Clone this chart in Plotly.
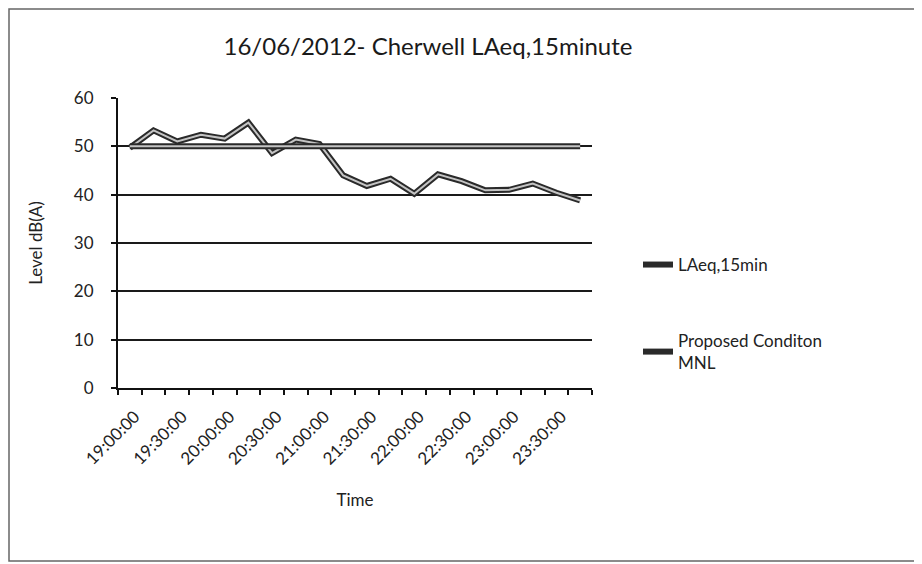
import plotly.graph_objects as go

times = ["19:00:00", "19:15:00", "19:30:00", "19:45:00", "20:00:00", "20:15:00",
         "20:30:00", "20:45:00", "21:00:00", "21:15:00", "21:30:00", "21:45:00",
         "22:00:00", "22:15:00", "22:30:00", "22:45:00", "23:00:00", "23:15:00",
         "23:30:00", "23:45:00"]
laeq = [49.7, 53.3, 51.0, 52.4, 51.6, 54.9, 48.6, 51.4, 50.5, 44.0,
        41.8, 43.3, 40.2, 44.2, 42.8, 40.9, 41.0, 42.3, 40.4, 38.8]
mnl = [50] * len(times)
tick_labels = times[::2]

title_text = "16/06/2012- Cherwell LAeq,15minute"
series_names = ["LAeq,15min", "Proposed Conditon<br>MNL"]

FONT = "Lato, 'Open Sans', sans-serif"
idx = list(range(len(times)))

OFF = 8  # page body margin offset
W, H = 922, 564
ml, mt = 118 - OFF, 98 - OFF
pr, pb = 592 - OFF, 388 - OFF
mr, mb = W - pr, H - pb
pw, ph = pr - ml, pb - mt


def px(x):
    return (x - OFF - ml) / pw


def py(y):
    return (pb - (y - OFF)) / ph


fig = go.Figure()
for name, vals, lg in [(series_names[0], laeq, "legend"), (series_names[1], mnl, "legend2")]:
    fig.add_trace(go.Scatter(x=idx, y=vals, mode="lines", name=name, legend=lg,
                             line=dict(color="#2a2a2a", width=6)))
    fig.add_trace(go.Scatter(x=idx, y=vals, mode="lines", showlegend=False,
                             hoverinfo="skip", line=dict(color="#c4c4c4", width=2)))

fig.update_layout(
    width=W, height=H,
    margin=dict(l=ml, r=mr, t=mt, b=mb),
    paper_bgcolor="white", plot_bgcolor="white",
    font=dict(family=FONT, color="#222", size=15),
    title=dict(text=title_text, x=(428 - OFF) / W, xanchor="center", y=1 - (47 - OFF) / H,
               yanchor="middle", font=dict(size=24, color="#1a1a1a")),
    xaxis=dict(
        range=[-0.5, len(times) - 0.5], automargin=False,
        tickmode="array", tickvals=idx[::2], ticktext=tick_labels,
        tickangle=-45, ticks="", showgrid=False, zeroline=False,
        showline=True, linecolor="#111", linewidth=2,
        tickfont=dict(size=17), ticklabelstandoff=10, ticklabelshift=5,
        minor=dict(tickmode="array", tickvals=[i - 0.5 for i in range(len(times) + 1)],
                   ticks="outside", ticklen=5, tickcolor="#111", tickwidth=2,
                   showgrid=False),
        title=dict(text="Time", font=dict(size=17), standoff=27),
    ),
    yaxis=dict(
        range=[0, 60], tickvals=[0, 10, 20, 30, 40, 50, 60], automargin=False,
        ticks="outside", ticklen=5, tickcolor="#111", tickwidth=2,
        showgrid=True, gridcolor="#1a1a1a", gridwidth=2,
        zeroline=False, showline=True, linecolor="#111", linewidth=2,
        tickfont=dict(size=17), ticklabelstandoff=14,
        title=dict(text="Level dB(A)", font=dict(size=17), standoff=27),
    ),
    legend=dict(x=px(638), y=py(265), xanchor="left", yanchor="middle",
                font=dict(size=17), bgcolor="rgba(0,0,0,0)", itemwidth=30),
    legend2=dict(x=px(638), y=py(352), xanchor="left", yanchor="middle",
                 font=dict(size=17), bgcolor="rgba(0,0,0,0)", itemwidth=30),
    shapes=[dict(type="rect", xref="paper", yref="paper",
                 x0=px(OFF + 1), x1=px(W - 4),
                 y0=py(H - 3), y1=py(OFF + 1),
                 line=dict(color="#666", width=1.5), fillcolor="rgba(0,0,0,0)",
                 layer="below")],
)

fig.write_html("out.html")
